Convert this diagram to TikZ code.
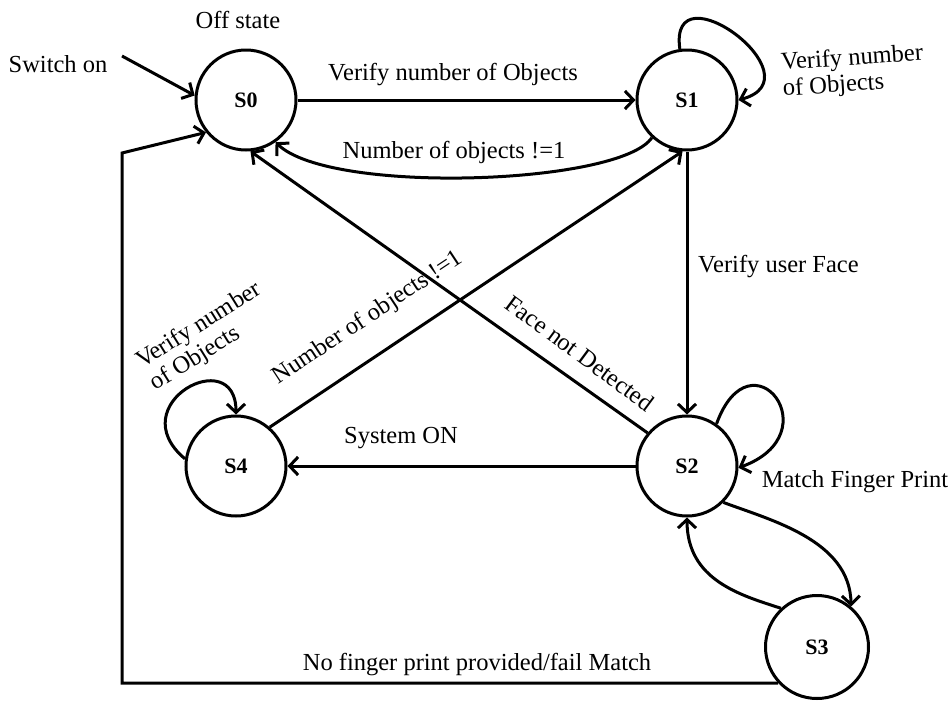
\documentclass[tikz,border=0pt]{standalone}
\usepackage{fontspec}
\setmainfont{Liberation Serif}
\usetikzlibrary{arrows.meta}
\begin{document}
\begin{tikzpicture}[x=1pt,y=1pt,
  state/.style={circle,draw,line width=3pt,minimum size=100pt,inner sep=0pt,font=\fontsize{22}{24}\selectfont\bfseries},
  conn/.style={line width=3pt,-{Straight Barb[length=8.5pt,width=18pt]}},
  lbl/.style={font=\fontsize{24.5}{27}\selectfont,inner sep=0pt},
  lbl2/.style={lbl,align=left,font=\fontsize{24.5}{26}\selectfont}]
\useasboundingbox (0,0) rectangle (951,-702);
% states
\node[state] (S0) at (246,-100) {S0};
\node[state] (S1) at (687,-100) {S1};
\node[state] (S2) at (687,-466) {S2};
\node[state,minimum size=103pt] (S3) at (817,-647) {S3};
\node[state] (S4) at (236,-466) {S4};
% free ends
\coordinate (sw) at (122,-56);
\coordinate (c2) at (122,-153);
% connectors
\draw[conn] (sw) -- (S0.175);
\draw[conn] (S0) -- (S1);
\draw[conn] (S1.227) .. controls (620,-185) and (330,-195) .. (S0.-55);
\draw[conn] (S1.98) .. controls +(98:85) and +(15:85) .. (S1.0);
\draw[conn] (S1) -- (S2);
\draw[conn] (S2.140) -- (S0.-85);
\draw[conn] (S4.49) -- (S1.-95);
\draw[conn] (S2) -- (S4);
\draw[conn] (S2.55) .. controls +(70:100) and +(20:100) .. (S2.-2);
\draw[conn] (S2.-45) .. controls (770,-520) and (850,-540) .. (S3.50);
\draw[conn] (S3.133) .. controls (740,-595) and (687,-580) .. (S2.270);
\draw[conn] (S3.223) -| (c2) -- (S0.219);
\draw[conn] (S4.172) .. controls +(140:85) and +(90:72) .. (S4.90);
% labels
\node[lbl,anchor=base] (l0) at (238,-28) {Off state};
\node[lbl,anchor=base] (l1) at (58,-72) {Switch on};
\node[lbl,anchor=base] (l2) at (453,-80) {Verify number of Objects};
\node[lbl,anchor=base] (l3) at (454,-158) {Number of objects !=1};
\node[lbl2,rotate=4] (l4) at (853,-72) {Verify number\\of Objects};
\node[lbl,anchor=base west] (l5) at (698,-272) {Verify user Face};
\node[lbl,rotate=-36.5] (l6) at (580,-353) {Face not Detected};
\node[lbl,rotate=33.5] (l7) at (368,-318) {Number of objects !=1};
\node[lbl2,rotate=32] (l8) at (206,-337) {Verify number\\of Objects};
\node[lbl,anchor=base] (l9) at (401,-443) {System ON};
\node[lbl,anchor=base] (l10) at (855,-487) {Match Finger Print};
\node[lbl,anchor=base] (l11) at (477,-670) {No finger print provided/fail Match};
\end{tikzpicture}
\end{document}
